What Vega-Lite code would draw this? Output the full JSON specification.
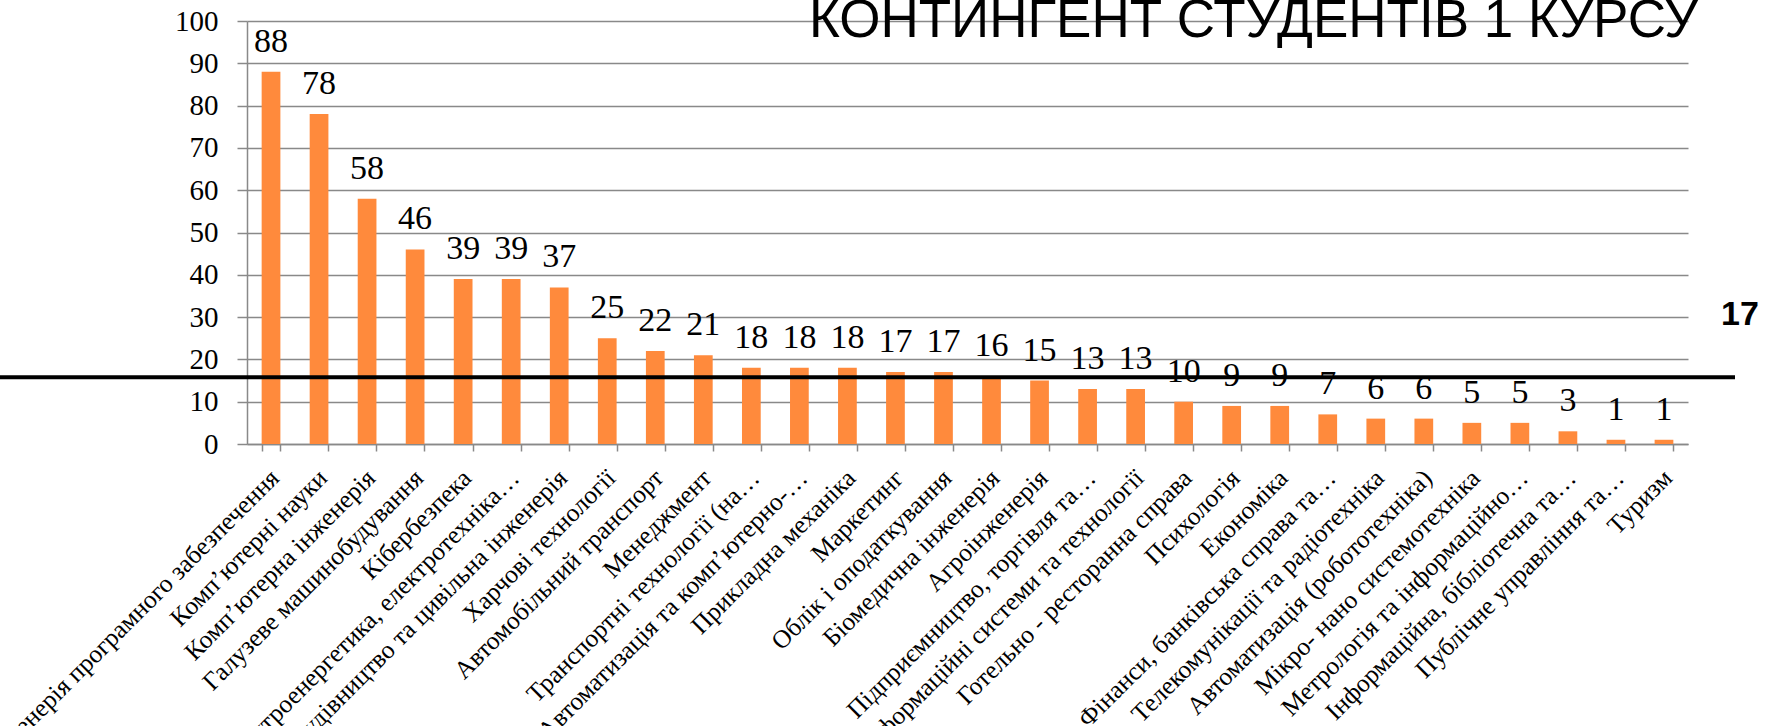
{
  "$schema": "https://vega.github.io/schema/vega-lite/v6.json",
  "width": 1441,
  "height": 423,
  "autosize": {"type": "none"},
  "padding": {"left": 247, "top": 21, "right": 87, "bottom": 282},
  "background": "white",
  "config": {"view": {"stroke": null}, "font": "Liberation Serif"},
  "title": {
    "text": "КОНТИНГЕНТ СТУДЕНТІВ 1 КУРСУ",
    "anchor": "end",
    "frame": "group",
    "font": "Liberation Sans",
    "fontSize": 53,
    "fontWeight": "normal",
    "color": "black",
    "baseline": "alphabetic",
    "offset": -83,
    "dx": 10
  },
  "datasets": {
    "bars": [
      {"spec": "Інженерія програмного забезпечення", "count": 88},
      {"spec": "Комп’ютерні науки", "count": 78},
      {"spec": "Комп’ютерна інженерія", "count": 58},
      {"spec": "Галузеве машинобудування", "count": 46},
      {"spec": "Кібербезпека", "count": 39},
      {"spec": "Електроенергетика, електротехніка…", "count": 39},
      {"spec": "Будівництво та цивільна інженерія", "count": 37},
      {"spec": "Харчові технології", "count": 25},
      {"spec": "Автомобільний транспорт", "count": 22},
      {"spec": "Менеджмент", "count": 21},
      {"spec": "Транспортні технології (на…", "count": 18},
      {"spec": "Автоматизація та комп’ютерно-…", "count": 18},
      {"spec": "Прикладна механіка", "count": 18},
      {"spec": "Маркетинг", "count": 17},
      {"spec": "Облік і оподаткування", "count": 17},
      {"spec": "Біомедична інженерія", "count": 16},
      {"spec": "Агроінженерія", "count": 15},
      {"spec": "Підприємництво, торгівля та…", "count": 13},
      {"spec": "Інформаційні системи та технології", "count": 13},
      {"spec": "Готельно - ресторанна справа", "count": 10},
      {"spec": "Психологія", "count": 9},
      {"spec": "Економіка", "count": 9},
      {"spec": "Фінанси, банківська справа та…", "count": 7},
      {"spec": "Телекомунікації та радіотехніка", "count": 6},
      {"spec": "Автоматизація (робототехніка)", "count": 6},
      {"spec": "Мікро- нано системотехніка", "count": 5},
      {"spec": "Метрологія та інформаційно…", "count": 5},
      {"spec": "Інформаційна, бібліотечна та…", "count": 3},
      {"spec": "Публічне управління та…", "count": 1},
      {"spec": "Туризм", "count": 1}
    ],
    "threshold": [{"value": 15.8, "label": "17"}]
  },
  "layer": [
    {
      "data": {"name": "bars"},
      "mark": {"type": "bar", "color": "#FF8A3C"},
      "encoding": {
        "x": {
          "field": "spec",
          "type": "nominal",
          "sort": null,
          "scale": {"paddingInner": 0.61, "paddingOuter": 0.305},
          "axis": {
            "title": null,
            "labelAngle": -45,
            "labelAlign": "right",
            "labelBaseline": "top",
            "labelFont": "Liberation Serif",
            "labelFontSize": 25.5,
            "labelColor": "black",
            "labelPadding": 14,
            "labelOffset": -5,
            "labelLimit": 0,
            "labelOverlap": false,
            "tickBand": "extent",
            "tickSize": 7,
            "tickColor": "#898989",
            "tickWidth": 1.5,
            "domainColor": "#898989",
            "domainWidth": 1.5
          }
        },
        "y": {
          "field": "count",
          "type": "quantitative",
          "scale": {"domain": [0, 100]},
          "axis": {
            "title": null,
            "values": [0, 10, 20, 30, 40, 50, 60, 70, 80, 90, 100],
            "grid": true,
            "gridColor": "#898989",
            "gridWidth": 1.5,
            "tickSize": 10,
            "tickColor": "#898989",
            "tickWidth": 1.5,
            "domainColor": "#898989",
            "domainWidth": 1.5,
            "labelFont": "Liberation Serif",
            "labelFontSize": 29,
            "labelColor": "black",
            "labelPadding": 19
          }
        }
      }
    },
    {
      "data": {"name": "bars"},
      "mark": {"type": "text", "font": "Liberation Serif", "fontSize": 34, "baseline": "alphabetic", "dy": -20, "color": "black"},
      "encoding": {
        "x": {"field": "spec", "type": "nominal", "sort": null},
        "y": {"field": "count", "type": "quantitative"},
        "text": {"field": "count", "type": "quantitative"}
      }
    },
    {
      "data": {"name": "threshold"},
      "mark": {"type": "rule", "color": "black", "strokeWidth": 4},
      "encoding": {
        "y": {"field": "value", "type": "quantitative"},
        "x": {"value": -247},
        "x2": {"value": 1488}
      }
    },
    {
      "data": {"name": "threshold"},
      "mark": {"type": "text", "font": "Liberation Sans", "fontWeight": "bold", "fontSize": 34, "baseline": "alphabetic", "align": "center", "dx": 52, "dy": -52, "color": "black"},
      "encoding": {
        "y": {"field": "value", "type": "quantitative"},
        "x": {"value": {"expr": "width"}},
        "text": {"field": "label"}
      }
    }
  ]
}
